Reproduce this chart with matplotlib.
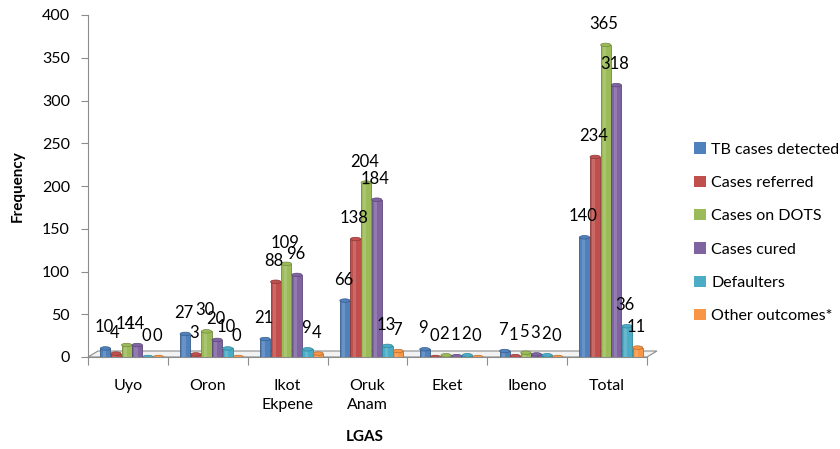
import matplotlib
matplotlib.use("Agg")
import matplotlib.pyplot as plt
import numpy as np
from matplotlib.patches import Ellipse, Polygon, Patch

# LGA categories and the six series
lgas = ["Uyo", "Oron", "Ikot\nEkpene", "Oruk\nAnam", "Eket", "Ibeno", "Total"]
series = ["TB cases detected", "Cases referred", "Cases on DOTS",
          "Cases cured", "Defaulters", "Other outcomes*"]
tb_detected = [10, 27, 21, 66, 9, 7, 140]
referred = [4, 3, 88, 138, 0, 1, 234]
on_dots = [14, 30, 109, 204, 2, 5, 365]
cured = [14, 20, 96, 184, 1, 3, 318]
defaulters = [0, 10, 9, 13, 2, 2, 36]
other = [0, 0, 4, 7, 0, 0, 11]
yticks = [0, 50, 100, 150, 200, 250, 300, 350, 400]

COLORS = ["#4F81BD", "#C0504D", "#9BBB59", "#8064A2", "#4BACC6", "#F79646"]
DARK = ["#385D8A", "#8C3836", "#71893F", "#5C4776", "#31859C", "#B66D31"]
FONT = "Lato"
AX_GRAY = "#8c8c8c"

fig = plt.figure(figsize=(8.4, 4.49), dpi=100)
ax = fig.add_axes([88 / 840, 1 - 357 / 449, (647 - 88) / 840, (357 - 15) / 449])

values = [tb_detected, referred, on_dots, cured, defaulters, other]
x = np.arange(len(lgas)) + 0.5
w = 0.128
step = 0.133
shift = 0.05
ypx = 400 / 342.0   # data units per pixel

for k, (vals, c, d) in enumerate(zip(values, COLORS, DARK)):
    xs = x + shift + (k - 2.5) * step
    ax.bar(xs, vals, width=w, color=c, edgecolor=d, linewidth=0.6, zorder=3)
    # light strip to fake the cylinder shading
    ax.bar(xs - w * 0.12, vals, width=w * 0.3, color="white", alpha=0.15,
           linewidth=0, zorder=4)
    for xi, v in zip(xs, vals):
        ax.add_patch(Ellipse((xi, v), w, 3.5 * ypx, facecolor=c, edgecolor=d,
                             linewidth=0.5, zorder=5))
        ax.text(xi - 0.02, v + 13 * ypx, str(v), ha="center", va="bottom",
                fontsize=12, fontfamily=FONT, color="black", zorder=6,
                clip_on=False)

# 3D-ish floor
floor = Polygon([(0, 0), (7, 0), (7 + 0.125, 6 * ypx), (0.125, 6 * ypx)],
                closed=True, facecolor="#f2f2f2", edgecolor=AX_GRAY,
                linewidth=0.8, zorder=1, clip_on=False)
ax.add_patch(floor)

ax.set_xlim(0, 7)
ax.set_ylim(0, 400)
ax.set_yticks(yticks)
ax.set_yticklabels([str(t) for t in yticks], fontsize=11.5, fontfamily=FONT)
ax.set_xticks(np.arange(8))
ax.set_xticklabels([])
ax.set_xticks(x, minor=True)
ax.set_xticklabels(lgas, minor=True, fontsize=11.5, fontfamily=FONT,
                   linespacing=1.45)
ax.tick_params(axis="x", which="minor", length=0, pad=16)
ax.tick_params(axis="x", which="major", length=6, color=AX_GRAY)
ax.tick_params(axis="y", length=5, color=AX_GRAY, pad=8)
for s in ("top", "right"):
    ax.spines[s].set_visible(False)
ax.spines["left"].set_color(AX_GRAY)
ax.spines["bottom"].set_color(AX_GRAY)

ax.set_ylabel("Frequency", fontsize=11, fontweight="bold", fontfamily=FONT,
              labelpad=12)
fig.text(365 / 840, 1 - 437 / 449, "LGAS", ha="center", va="center",
         fontsize=11, fontweight="bold", fontfamily=FONT)

handles = [Patch(facecolor=c) for c in COLORS]
fig.legend(handles, series, loc="upper left",
           bbox_to_anchor=(680 / 840, 1 - 128 / 449), frameon=False,
           prop={"family": FONT, "size": 11.5}, handlelength=0.7,
           handleheight=0.7, handletextpad=0.35, labelspacing=1.2)

fig.savefig("out.png", dpi=100)
